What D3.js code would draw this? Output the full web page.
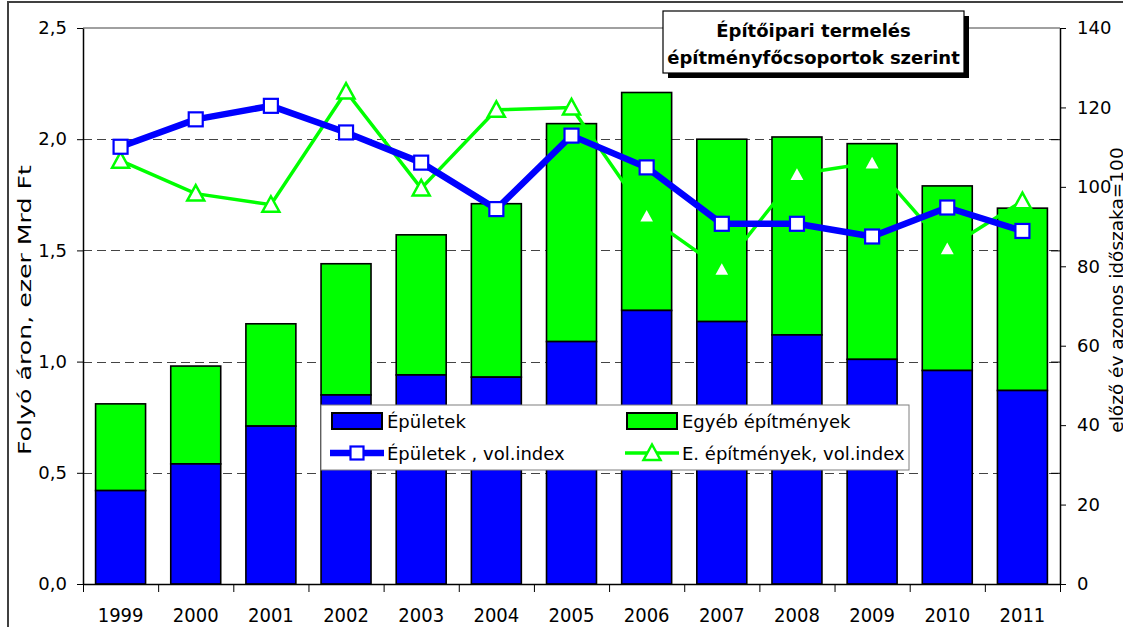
<!DOCTYPE html>
<html lang="hu">
<head>
<meta charset="utf-8">
<title>Építőipari termelés</title>
<script src="https://cdn.jsdelivr.net/npm/d3@7"></script>
<style>
  body { margin: 0; background: #fff; }
  svg text { font-family: "DejaVu Sans", Verdana, sans-serif; fill: #000; }
  .axis path, .axis line { stroke: #000; }
</style>
</head>
<body>
<script>
// chart data
var years = ["1999","2000","2001","2002","2003","2004","2005","2006","2007","2008","2009","2010","2011"];
var epuletek = [0.42, 0.54, 0.71, 0.85, 0.94, 0.93, 1.09, 1.23, 1.18, 1.12, 1.01, 0.96, 0.87];
var egyeb    = [0.39, 0.44, 0.46, 0.59, 0.63, 0.78, 0.98, 0.98, 0.82, 0.89, 0.97, 0.83, 0.82];
var epuletekIndex = [110.1, 117.0, 120.4, 113.7, 106.1, 94.4, 112.9, 104.9, 90.7, 90.7, 87.5, 94.8, 88.9];
var egyebIndex    = [106.6, 98.3, 95.5, 124.0, 99.6, 119.4, 120.0, 92.7, 79.3, 103.2, 106.1, 84.5, 96.4];
var leftTicks = [0, 0.5, 1.0, 1.5, 2.0, 2.5];
var rightTicks = [0, 20, 40, 60, 80, 100, 120, 140];
var titleLines = ["Építőipari termelés", "építményfőcsoportok szerint"];

var w = 1123, h = 627;
var plotLeft = 83, plotRight = 1060, plotTop = 28, plotBottom = 584;

var svg = d3.select("body").append("svg")
    .attr("width", w)
    .attr("height", h);

// outer frame
svg.append("rect")
    .attr("x", 8).attr("y", 2)
    .attr("width", 1300).attr("height", 800)
    .attr("fill", "#fff")
    .attr("stroke", "#404040")
    .attr("stroke-width", 2);

var xScale = d3.scaleBand()
    .domain(years)
    .range([plotLeft, plotRight])
    .paddingInner(0.335)
    .paddingOuter(0.1675);

var yLeft = d3.scaleLinear().domain([0, 2.5]).range([plotBottom, plotTop]);
var yRight = d3.scaleLinear().domain([0, 140]).range([plotBottom, plotTop]);

// plot area top border
svg.append("line")
    .attr("x1", plotLeft).attr("x2", plotRight)
    .attr("y1", yLeft(2.5)).attr("y2", yLeft(2.5))
    .attr("stroke", "#808080").attr("stroke-width", 1.5);

// gridlines
svg.selectAll("line.grid")
    .data(leftTicks.filter(function(d) { return d > 0 && d < 2.5; }))
    .enter()
    .append("line")
    .attr("class", "grid")
    .attr("x1", plotLeft).attr("x2", plotRight)
    .attr("y1", function(d) { return Math.round(yLeft(d)) + 0.5; })
    .attr("y2", function(d) { return Math.round(yLeft(d)) + 0.5; })
    .attr("stroke", "#444")
    .attr("stroke-width", 1)
    .attr("stroke-dasharray", "9,5");

// stacked bars
var barData = years.map(function(y, i) {
    return { year: y, a: epuletek[i], b: egyeb[i] };
});

svg.selectAll("rect.egyeb")
    .data(barData)
    .enter()
    .append("rect")
    .attr("class", "egyeb")
    .attr("x", function(d) { return xScale(d.year); })
    .attr("y", function(d) { return yLeft(d.a + d.b); })
    .attr("width", xScale.bandwidth())
    .attr("height", function(d) { return yLeft(d.a) - yLeft(d.a + d.b); })
    .attr("fill", "#00ff00")
    .attr("stroke", "#000")
    .attr("stroke-width", 1.6);

svg.selectAll("rect.epuletek")
    .data(barData)
    .enter()
    .append("rect")
    .attr("class", "epuletek")
    .attr("x", function(d) { return xScale(d.year); })
    .attr("y", function(d) { return yLeft(d.a); })
    .attr("width", xScale.bandwidth())
    .attr("height", function(d) { return yLeft(0) - yLeft(d.a); })
    .attr("fill", "#0000ff")
    .attr("stroke", "#000")
    .attr("stroke-width", 1.6);

// axes
var fmt = function(d) { return d3.format(".1f")(d).replace(".", ","); };

svg.append("g")
    .attr("class", "axis")
    .attr("transform", "translate(" + plotLeft + ",0)")
    .call(d3.axisLeft(yLeft).tickValues(leftTicks).tickFormat(fmt).tickSize(6).tickPadding(10).tickSizeOuter(0))
    .call(function(g) {
        g.selectAll("text").attr("font-size", "18px").attr("font-family", "DejaVu Sans");
        g.select(".domain").attr("stroke-width", 1.5);
    });

svg.append("g")
    .attr("class", "axis")
    .attr("transform", "translate(" + plotRight + ",0)")
    .call(d3.axisRight(yRight).tickValues(rightTicks).tickSize(6).tickPadding(11).tickSizeOuter(0))
    .call(function(g) {
        g.selectAll("text").attr("font-size", "18px").attr("font-family", "DejaVu Sans");
        g.select(".domain").attr("stroke-width", 1.5);
    });

// small inner marks on right axis where the gridlines meet it
svg.append("g")
    .attr("class", "axis")
    .attr("transform", "translate(" + plotRight + ",0)")
    .call(d3.axisLeft(yLeft).tickValues(leftTicks.slice(1, 5)).tickFormat("").tickSize(9).tickSizeOuter(0))
    .call(function(g) { g.select(".domain").remove(); });

// x axis: baseline, category boundary ticks, labels
var xEdges = d3.scaleLinear().domain([0, years.length]).range([plotLeft, plotRight]);
svg.append("g")
    .attr("class", "axis")
    .attr("transform", "translate(0," + plotBottom + ")")
    .call(d3.axisBottom(xEdges).tickValues(d3.range(years.length + 1)).tickFormat("").tickSize(8).tickSizeOuter(0))
    .call(function(g) { g.select(".domain").attr("stroke-width", 1.5); });

svg.append("g")
    .attr("transform", "translate(0," + plotBottom + ")")
    .call(d3.axisBottom(xScale).tickSize(0).tickPadding(24))
    .call(function(g) {
        g.select(".domain").remove();
        g.selectAll("text")
            .attr("font-size", "20px")
            .attr("font-family", "DejaVu Sans Condensed, DejaVu Sans")
            .style("font-stretch", "condensed");
    });

// axis titles
svg.append("text")
    .attr("transform", "translate(31,310) rotate(-90)")
    .attr("text-anchor", "middle")
    .attr("font-size", "17px")
    .attr("textLength", 290)
    .attr("lengthAdjust", "spacingAndGlyphs")
    .text("Folyó áron, ezer Mrd Ft");

svg.append("text")
    .attr("transform", "translate(1123,290) rotate(-90)")
    .attr("text-anchor", "middle")
    .attr("font-size", "18.5px")
    .text("előző év azonos időszaka=100");

// index lines
var cx = function(i) { return xScale(years[i]) + xScale.bandwidth() / 2; };

var indexLine = d3.line()
    .x(function(d, i) { return cx(i); })
    .y(function(d) { return yRight(d); });

svg.append("path")
    .datum(egyebIndex)
    .attr("d", indexLine)
    .attr("fill", "none")
    .attr("stroke", "#00ff00")
    .attr("stroke-width", 3.5)
    .attr("stroke-linejoin", "miter");

svg.append("path")
    .datum(epuletekIndex)
    .attr("d", indexLine)
    .attr("fill", "none")
    .attr("stroke", "#0000ff")
    .attr("stroke-width", 6.5)
    .attr("stroke-linejoin", "round");

var triPath = "M0,-8.5L8.5,7L-8.5,7Z";

svg.selectAll("path.tri")
    .data(egyebIndex)
    .enter()
    .append("path")
    .attr("class", "tri")
    .attr("d", triPath)
    .attr("transform", function(d, i) { return "translate(" + cx(i) + "," + yRight(d) + ")"; })
    .attr("fill", "#fff")
    .attr("stroke", "#00ff00")
    .attr("stroke-width", 2.5);

svg.selectAll("rect.sq")
    .data(epuletekIndex)
    .enter()
    .append("rect")
    .attr("class", "sq")
    .attr("x", function(d, i) { return cx(i) - 7; })
    .attr("y", function(d) { return yRight(d) - 7; })
    .attr("width", 14)
    .attr("height", 14)
    .attr("fill", "#fff")
    .attr("stroke", "#0000ff")
    .attr("stroke-width", 2.2);

// legend
var legend = svg.append("g");
legend.append("rect")
    .attr("x", 321).attr("y", 405)
    .attr("width", 588).attr("height", 65)
    .attr("fill", "#fff")
    .attr("stroke", "#7f7f7f")
    .attr("stroke-width", 1);

var legendItems = [
    { label: "Épületek", kind: "bar", color: "#0000ff", x: 332, y: 421 },
    { label: "Egyéb építmények", kind: "bar", color: "#00ff00", x: 627, y: 421 },
    { label: "Épületek , vol.index", kind: "sq", color: "#0000ff", x: 332, y: 453 },
    { label: "E. építmények, vol.index", kind: "tri", color: "#00ff00", x: 627, y: 453 }
];

legendItems.forEach(function(d) {
    if (d.kind === "bar") {
        legend.append("rect")
            .attr("x", d.x).attr("y", d.y - 8)
            .attr("width", 50).attr("height", 16)
            .attr("fill", d.color)
            .attr("stroke", "#000").attr("stroke-width", 2);
    } else {
        legend.append("line")
            .attr("x1", d.x - 2).attr("x2", d.x + 52)
            .attr("y1", d.y).attr("y2", d.y)
            .attr("stroke", d.color)
            .attr("stroke-width", d.kind === "sq" ? 6.5 : 3.5);
        if (d.kind === "sq") {
            legend.append("rect")
                .attr("x", d.x + 25 - 6.5).attr("y", d.y - 6.5)
                .attr("width", 13).attr("height", 13)
                .attr("fill", "#fff").attr("stroke", d.color).attr("stroke-width", 2.2);
        } else {
            legend.append("path")
                .attr("d", triPath)
                .attr("transform", "translate(" + (d.x + 25) + "," + d.y + ")")
                .attr("fill", "#fff").attr("stroke", d.color).attr("stroke-width", 2.5);
        }
    }
    legend.append("text")
        .attr("x", d.x + 55)
        .attr("y", d.y + 7)
        .attr("font-size", "18px")
        .text(d.label);
});

// title box with shadow
svg.append("rect")
    .attr("x", 668).attr("y", 16)
    .attr("width", 301).attr("height", 62)
    .attr("fill", "#000");
svg.append("rect")
    .attr("x", 663).attr("y", 11)
    .attr("width", 301).attr("height", 62)
    .attr("fill", "#fff")
    .attr("stroke", "#000")
    .attr("stroke-width", 1.2);

svg.selectAll("text.title")
    .data(titleLines)
    .enter()
    .append("text")
    .attr("class", "title")
    .attr("x", 813.5)
    .attr("y", function(d, i) { return 37 + i * 27; })
    .attr("text-anchor", "middle")
    .attr("font-size", "18px")
    .attr("font-weight", "bold")
    .text(function(d) { return d; });
</script>
</body>
</html>
